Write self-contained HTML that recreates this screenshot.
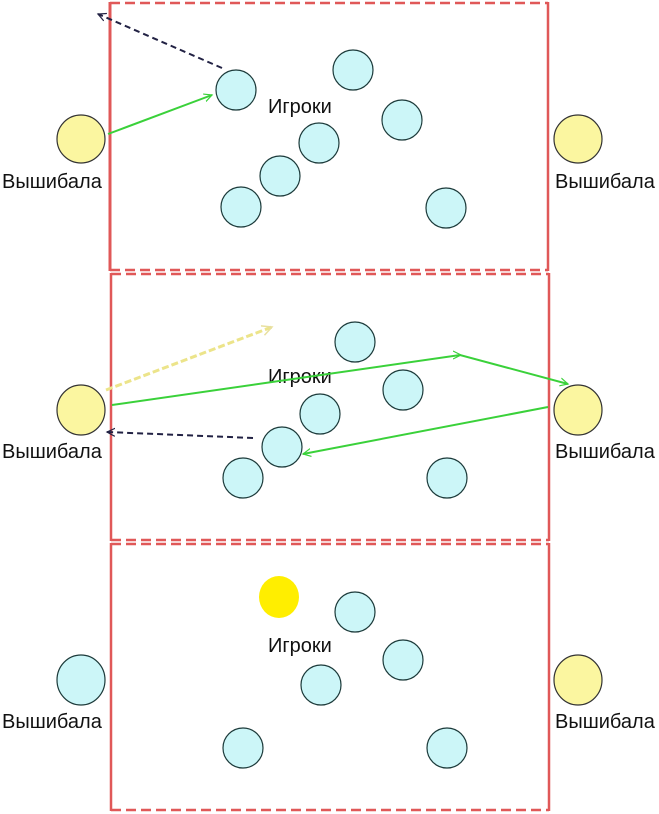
<!DOCTYPE html>
<html><head><meta charset="utf-8"><style>
html,body{margin:0;padding:0;background:#fff;width:659px;height:814px;overflow:hidden}
svg text{font-family:"Liberation Sans",sans-serif;font-size:20px;fill:#111}
</style></head><body>
<svg width="659" height="814" viewBox="0 0 659 814" xmlns="http://www.w3.org/2000/svg">
<defs>
<marker id="ag" markerWidth="10" markerHeight="10" refX="8" refY="5" orient="auto" markerUnits="userSpaceOnUse"><path d="M0,1 L8,5 L0,9" fill="none" stroke="#3ad13a" stroke-width="1.2"/></marker>
<marker id="ak" markerWidth="10" markerHeight="10" refX="8" refY="5" orient="auto" markerUnits="userSpaceOnUse"><path d="M0,1 L8,5 L0,9" fill="none" stroke="#222244" stroke-width="1.2"/></marker>
<marker id="ay" markerWidth="12" markerHeight="12" refX="10" refY="6" orient="auto" markerUnits="userSpaceOnUse"><path d="M0,1 L10,6 L0,11" fill="none" stroke="#e8e0a0" stroke-width="1.5"/></marker>
</defs>
<g stroke="#e05858" fill="none">
<line x1="110" y1="3" x2="548" y2="3" stroke-width="2.5" stroke-dasharray="10,5"/>
<line x1="110" y1="2" x2="110" y2="271" stroke-width="3"/>
<line x1="548" y1="2" x2="548" y2="271" stroke-width="2.5"/>
<line x1="110" y1="270" x2="548" y2="270" stroke-width="2.5" stroke-dasharray="10,5"/>
<line x1="111" y1="274" x2="549" y2="274" stroke-width="2.5" stroke-dasharray="10,5"/>
<line x1="111" y1="273" x2="111" y2="541" stroke-width="2.5"/>
<line x1="549" y1="273" x2="549" y2="541" stroke-width="2.5"/>
<line x1="111" y1="540" x2="549" y2="540" stroke-width="2.5" stroke-dasharray="10,5"/>
<line x1="111" y1="544" x2="549" y2="544" stroke-width="2.5" stroke-dasharray="10,5"/>
<line x1="111" y1="543" x2="111" y2="811" stroke-width="2.5"/>
<line x1="549" y1="543" x2="549" y2="811" stroke-width="2.5"/>
<line x1="111" y1="810" x2="549" y2="810" stroke-width="2.5" stroke-dasharray="10,5"/>
</g>

<line x1="222" y1="68" x2="98" y2="14" stroke="#222244" stroke-width="2" stroke-dasharray="6,4" marker-end="url(#ak)"/>
<line x1="108" y1="134" x2="212" y2="95" stroke="#3ad13a" stroke-width="2" marker-end="url(#ag)"/>
<g fill="#ccf6f8" stroke="#1c3a3a" stroke-width="1.2">
<circle cx="236" cy="90" r="20"/><circle cx="353" cy="70" r="20"/><circle cx="402" cy="120" r="20"/>
<circle cx="319" cy="143" r="20"/><circle cx="280" cy="176" r="20"/><circle cx="241" cy="207" r="20"/><circle cx="446" cy="208" r="20"/>
</g>
<g fill="#fbf6a0" stroke="#333" stroke-width="1.2">
<circle cx="81" cy="139" r="24"/><circle cx="578" cy="139" r="24"/>
</g>
<text x="268" y="113">Игроки</text>
<text x="2" y="188">Вышибала</text>
<text x="555" y="188">Вышибала</text>

<text x="268" y="383">Игроки</text>
<g fill="#ccf6f8" stroke="#1c3a3a" stroke-width="1.2">
<circle cx="355" cy="342" r="20"/><circle cx="403" cy="390" r="20"/><circle cx="320" cy="414" r="20"/>
<circle cx="282" cy="447" r="20"/><circle cx="243" cy="478" r="20"/><circle cx="447" cy="478" r="20"/>
</g>
<g fill="#fbf6a0" stroke="#333" stroke-width="1.2">
<ellipse cx="81" cy="410" rx="24" ry="25"/><ellipse cx="578" cy="410" rx="24" ry="25"/>
</g>
<line x1="106" y1="390" x2="272" y2="327" stroke="#ece48a" stroke-width="3" stroke-dasharray="7,3" marker-end="url(#ay)"/>
<polyline points="112,405 460,355 568,384" fill="none" stroke="#3ad13a" stroke-width="2" marker-end="url(#ag)"/>
<line x1="460" y1="355" x2="461" y2="355" stroke="#3ad13a" marker-end="url(#ag)"/>
<line x1="548" y1="407" x2="303" y2="454" stroke="#3ad13a" stroke-width="2" marker-end="url(#ag)"/>
<line x1="253" y1="438" x2="107" y2="432" stroke="#222244" stroke-width="2" stroke-dasharray="6,4" marker-end="url(#ak)"/>
<text x="2" y="458">Вышибала</text>
<text x="555" y="458">Вышибала</text>

<ellipse cx="279" cy="597" rx="20" ry="21" fill="#ffee00"/>
<g fill="#ccf6f8" stroke="#1c3a3a" stroke-width="1.2">
<circle cx="355" cy="612" r="20"/><circle cx="403" cy="660" r="20"/><circle cx="321" cy="685" r="20"/>
<circle cx="243" cy="748" r="20"/><circle cx="447" cy="748" r="20"/>
<ellipse cx="81" cy="680" rx="24" ry="25"/>
</g>
<ellipse cx="578" cy="680" rx="24" ry="25" fill="#fbf6a0" stroke="#333" stroke-width="1.2"/>
<text x="268" y="652">Игроки</text>
<text x="2" y="728">Вышибала</text>
<text x="555" y="728">Вышибала</text>
</svg>
</body></html>
